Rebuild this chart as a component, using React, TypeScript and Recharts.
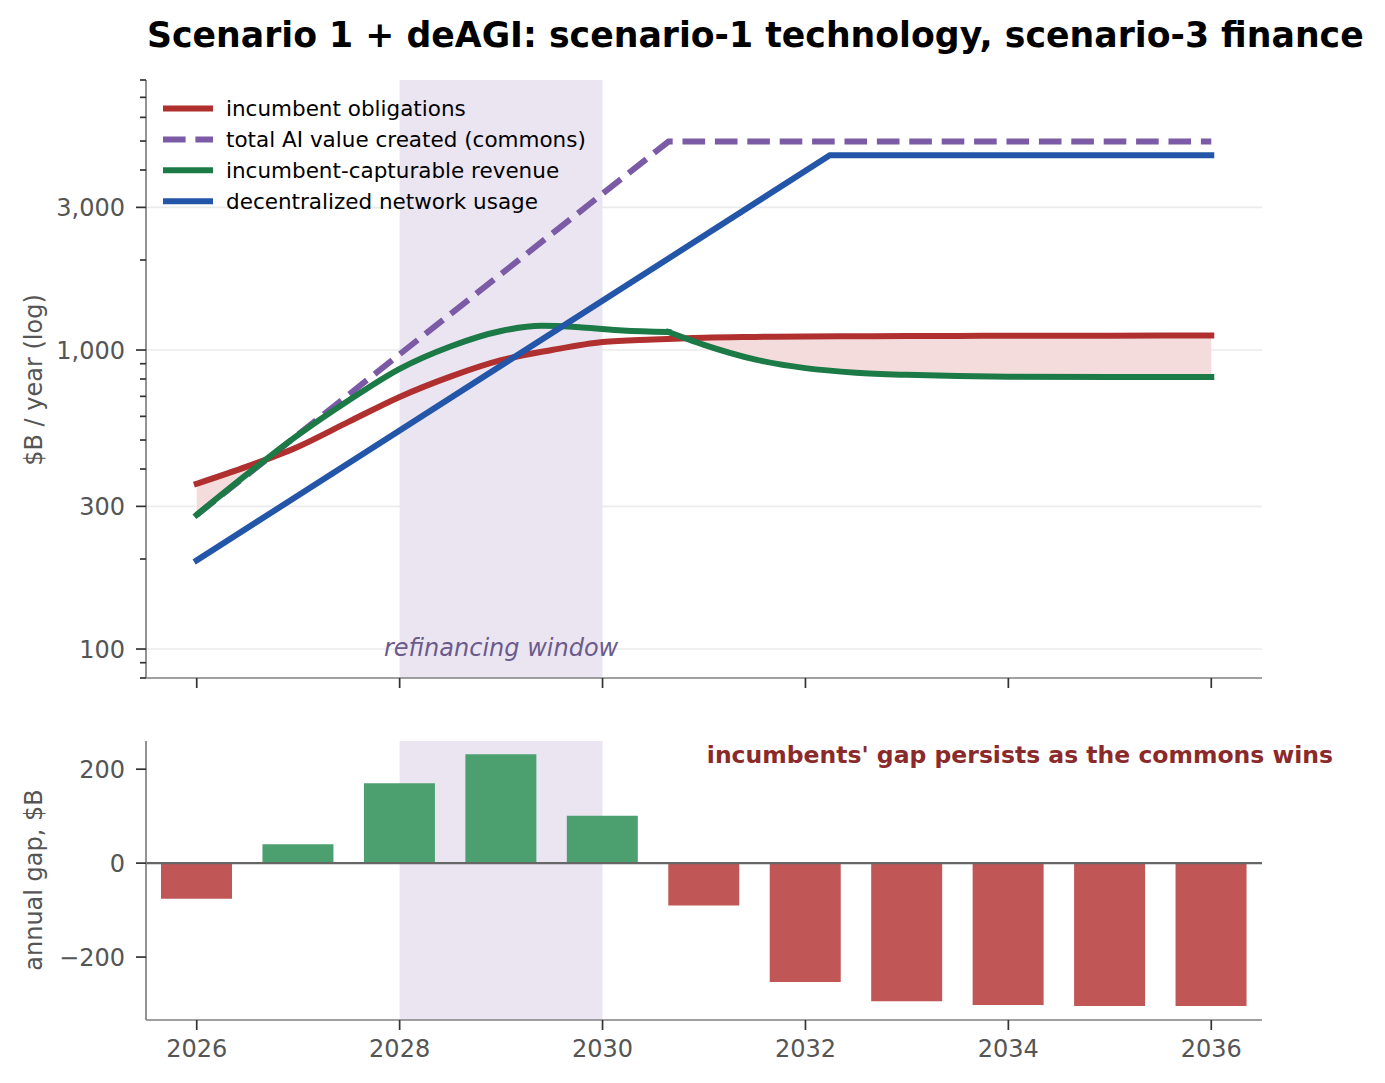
import React from 'react';
import {
    ComposedChart,
    Line,
    Area,
    Bar,
    Cell,
    XAxis,
    YAxis,
    CartesianGrid,
    ReferenceArea,
    ReferenceLine,
} from 'recharts';

// ---- data ($B / year) ----
const obligationYears = [2026, 2026.5, 2027, 2027.5, 2028, 2028.5, 2029, 2029.5, 2030, 2030.5, 2031, 2031.5, 2032, 2032.5, 2033, 2033.5, 2034, 2035, 2036];
const obligationValues = [357, 408, 475, 576, 697, 815, 925, 1000, 1064, 1085, 1100, 1106, 1110, 1112, 1114, 1115, 1116, 1117, 1118];

// capturable revenue has a kink where total value stops growing
const capturableYearsEarly = [2026, 2026.5, 2027, 2027.5, 2028, 2028.5, 2029, 2029.4, 2029.8, 2030.2, 2030.65];
const capturableValuesEarly = [281, 385, 520, 679, 865, 1028, 1158, 1205, 1190, 1162, 1148];
const capturableYearsLate = [2030.65, 2031, 2031.5, 2032, 2032.5, 2033, 2033.5, 2034, 2035, 2036];
const capturableValuesLate = [1148, 1040, 930, 870, 840, 826, 818, 814, 812, 812];

const totalValueYears = [2026, 2030.65, 2036];
const totalValueValues = [281, 4980, 4980];

const networkYears = [2026, 2032.24, 2036];
const networkValues = [198, 4480, 4480];

// shortfall band (obligations above capturable revenue)
const shortfallEarlyYears = [2026, 2026.5, 2026.64];
const shortfallEarlyLow = [281, 385, 422];
const shortfallEarlyHigh = [357, 408, 422];
const shortfallLateYears = [2030.83, 2031, 2031.5, 2032, 2032.5, 2033, 2033.5, 2034, 2035, 2036];
const shortfallLateLow = [1097, 1040, 930, 870, 840, 826, 818, 814, 812, 812];
const shortfallLateHigh = [1097, 1100, 1106, 1110, 1112, 1114, 1115, 1116, 1117, 1118];

const barYears = [2026, 2027, 2028, 2029, 2030, 2031, 2032, 2033, 2034, 2035, 2036];
const annualGap = [-76, 40, 170, 232, 101, -90, -253, -294, -302, -304, -304];

const yearTicks = [2026, 2028, 2030, 2032, 2034, 2036];
const logTicks = [100, 300, 1000, 3000];
const logMinorTicks = [80, 90, 200, 400, 500, 600, 700, 800, 900, 2000, 4000, 5000, 6000, 7000, 8000];
const gapTicks = [-200, 0, 200];

const legendItems = [
    { label: 'incumbent obligations', color: '#b03030', dashed: false },
    { label: 'total AI value created (commons)', color: '#7b5aa6', dashed: true },
    { label: 'incumbent-capturable revenue', color: '#1c7a47', dashed: false },
    { label: 'decentralized network usage', color: '#2356a8', dashed: false },
];

const toPoints = (xs: number[], ys: number[]) => xs.map((year, i) => ({ year, value: ys[i] }));
const toBand = (xs: number[], lo: number[], hi: number[]) => xs.map((year, i) => ({ year, band: [lo[i], hi[i]] }));

const obligations = toPoints(obligationYears, obligationValues);
const capturableEarly = toPoints(capturableYearsEarly, capturableValuesEarly);
const capturableLate = toPoints(capturableYearsLate, capturableValuesLate);
const totalValue = toPoints(totalValueYears, totalValueValues);
const network = toPoints(networkYears, networkValues);
const shortfallEarly = toBand(shortfallEarlyYears, shortfallEarlyLow, shortfallEarlyHigh);
const shortfallLate = toBand(shortfallLateYears, shortfallLateLow, shortfallLateHigh);
const gapData = barYears.map((year, i) => ({ year, gap: annualGap[i] }));
const allLogTicks = [...logTicks, ...logMinorTicks].sort((a, b) => a - b);

const FONT = 'DejaVu Sans';
const tickStyle = { fontSize: 24, fill: '#555', fontFamily: FONT };
const spine = { stroke: '#808080', strokeWidth: 1.7 };
const tickMark = { stroke: '#333', strokeWidth: 1.7 };

const fmtThousands = (v: number) => v.toLocaleString('en-US');
const fmtGap = (v: number) => (v < 0 ? `\u2212${Math.abs(v)}` : `${v}`);

// log axis tick: long mark + label for majors, short mark for minors
function LogTick(props: any) {
    const { x, y, payload } = props;
    const major = logTicks.includes(payload.value);
    return (
        <g>
            <line x1={x - (major ? 10 : 6)} x2={x} y1={y} y2={y} stroke="#333" strokeWidth={1.7} />
            {major && (
                <text x={x - 21} y={y} dy="0.36em" textAnchor="end" {...tickStyle}>
                    {fmtThousands(payload.value)}
                </text>
            )}
        </g>
    );
}

function TopPanel() {
    return (
        <ComposedChart width={1385} height={700} margin={{ top: 80, right: 123, left: 0, bottom: 0 }}>
            <CartesianGrid vertical={false} horizontalValues={logTicks} stroke="#ebebeb" strokeWidth={1.7} />
            <ReferenceArea
                x1={2028}
                x2={2030}
                fill="#ebe5f2"
                fillOpacity={1}
                stroke="none"
                label={{
                    value: 'refinancing window',
                    position: 'insideBottom',
                    offset: 22,
                    fill: '#6b5b8c',
                    fontSize: 24,
                    fontStyle: 'italic',
                    fontFamily: FONT,
                }}
            />
            <XAxis
                dataKey="year"
                type="number"
                domain={[2025.5, 2036.5]}
                ticks={yearTicks}
                allowDataOverflow
                height={22}
                tickSize={10}
                tickFormatter={() => ''}
                axisLine={spine}
                tickLine={tickMark}
            />
            <YAxis
                scale="log"
                type="number"
                domain={[80, 8000]}
                allowDataOverflow
                ticks={allLogTicks}
                interval={0}
                width={146}
                tickSize={0}
                tickMargin={0}
                tick={<LogTick />}
                axisLine={spine}
                tickLine={false}
            />
            <Area data={shortfallEarly} dataKey="band" type="monotone" fill="#f5dcdc" fillOpacity={1} stroke="none" isAnimationActive={false} />
            <Area data={shortfallLate} dataKey="band" type="monotone" fill="#f5dcdc" fillOpacity={1} stroke="none" isAnimationActive={false} />
            <Line data={totalValue} dataKey="value" type="linear" stroke="#7b5aa6" strokeWidth={6} strokeDasharray="22.6 9.8" dot={false} activeDot={false} isAnimationActive={false} />
            <Line data={obligations} dataKey="value" type="monotone" stroke="#b03030" strokeWidth={6} strokeLinecap="square" dot={false} activeDot={false} isAnimationActive={false} />
            <Line data={capturableEarly} dataKey="value" type="monotone" stroke="#1c7a47" strokeWidth={6} strokeLinecap="square" dot={false} activeDot={false} isAnimationActive={false} />
            <Line data={capturableLate} dataKey="value" type="monotone" stroke="#1c7a47" strokeWidth={6} strokeLinecap="square" dot={false} activeDot={false} isAnimationActive={false} />
            <Line data={network} dataKey="value" type="linear" stroke="#2356a8" strokeWidth={6} strokeLinecap="square" dot={false} activeDot={false} isAnimationActive={false} />
        </ComposedChart>
    );
}

function BottomPanel() {
    return (
        <ComposedChart width={1385} height={383} data={gapData} margin={{ top: 41, right: 123, left: 0, bottom: 0 }}>
            <ReferenceArea x1={2028} x2={2030} fill="#ebe5f2" fillOpacity={1} stroke="none" />
            <XAxis
                dataKey="year"
                type="number"
                domain={[2025.5, 2036.5]}
                ticks={yearTicks}
                allowDataOverflow
                height={63}
                tickSize={10}
                tickMargin={10}
                tick={tickStyle}
                axisLine={spine}
                tickLine={tickMark}
            />
            <YAxis
                type="number"
                domain={[-334, 260]}
                allowDataOverflow
                ticks={gapTicks}
                width={146}
                tickSize={10}
                tickMargin={11}
                tick={tickStyle}
                tickFormatter={fmtGap}
                axisLine={spine}
                tickLine={tickMark}
            />
            <Bar dataKey="gap" barSize={71} isAnimationActive={false}>
                {gapData.map((d) => (
                    <Cell key={d.year} fill={d.gap >= 0 ? '#4c9f6f' : '#c05656'} />
                ))}
            </Bar>
            <ReferenceLine y={0} stroke="#666" strokeWidth={2.2} />
        </ComposedChart>
    );
}

function Overlay() {
    return (
        <svg width={1385} height={1083} style={{ position: 'absolute', left: 0, top: 0, pointerEvents: 'none' }} fontFamily={FONT}>
            <text x={147} y={47} fontSize={34.7} fontWeight="bold" fill="#000">
                Scenario 1 + deAGI: scenario-1 technology, scenario-3 finance
            </text>
            <text x={42} y={380} fontSize={24} fill="#555" textAnchor="middle" transform="rotate(-90 42 380)">
                $B / year (log)
            </text>
            <text x={42} y={880} fontSize={24} fill="#555" textAnchor="middle" transform="rotate(-90 42 880)">
                annual gap, $B
            </text>
            {legendItems.map((item, i) => {
                const y = 108.5 + i * 30.9;
                return (
                    <g key={item.label}>
                        <line
                            x1={163}
                            x2={213}
                            y1={y}
                            y2={y}
                            stroke={item.color}
                            strokeWidth={6}
                            strokeDasharray={item.dashed ? '22.6 9.8' : undefined}
                        />
                        <text x={226} y={y + 7.5} fontSize={21.5} fill="#000">
                            {item.label}
                        </text>
                    </g>
                );
            })}
            <text x={1333} y={763} fontSize={23.5} fontWeight="bold" fill="#8b2a2a" textAnchor="end">
                incumbents' gap persists as the commons wins
            </text>
        </svg>
    );
}

export default function App() {
    return (
        <div style={{ position: 'absolute', left: 0, top: 0, width: 1385, height: 1083, background: '#fff' }}>
            <div style={{ position: 'absolute', left: 0, top: 0 }}>
                <TopPanel />
            </div>
            <div style={{ position: 'absolute', left: 0, top: 700 }}>
                <BottomPanel />
            </div>
            <Overlay />
        </div>
    );
}
